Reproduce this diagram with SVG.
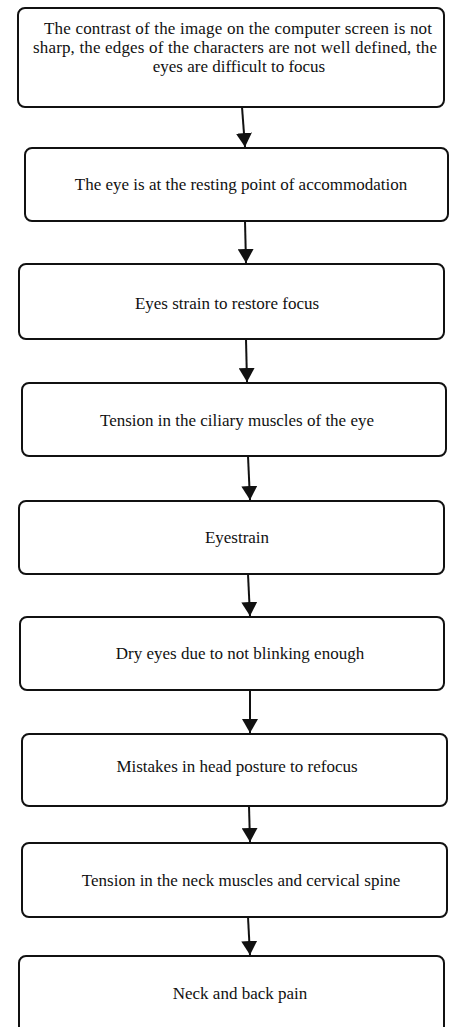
<svg xmlns="http://www.w3.org/2000/svg" width="452" height="1027" viewBox="0 0 452 1027">
<defs>
<style>
.box{fill:#fff;stroke:#111;stroke-width:2}
.t{font-family:"Liberation Serif","Times New Roman",serif;font-size:17px;fill:#111;text-anchor:middle}
.s{text-anchor:start}
.c{stroke:#111;stroke-width:2;fill:none}
</style>
<marker id="ah" viewBox="0 0 14 16" refX="14" refY="8" markerWidth="14" markerHeight="16" markerUnits="userSpaceOnUse" orient="auto">
<path d="M0,0 L14,8 L0,16 Z" fill="#111"/>
</marker>
</defs>
<rect width="452" height="1027" fill="#fff"/>
<g id="n1"><rect class="box" x="18" y="8" width="426" height="99" rx="7"/>
<text class="t s" x="44" y="34" textLength="388" lengthAdjust="spacing">The contrast of the image on the computer screen  is not</text>
<text class="t s" x="33" y="53" textLength="404" lengthAdjust="spacing">sharp, the edges of the characters  are not well defined, the</text>
<text class="t" x="239" y="72">eyes are difficult to focus</text></g>
<g id="n2"><rect class="box" x="25" y="148" width="423" height="73" rx="7"/>
<text class="t" x="241" y="190">The eye is at the resting point of accommodation</text></g>
<g id="n3"><rect class="box" x="19" y="264" width="425" height="75" rx="7"/>
<text class="t" x="227" y="309">Eyes strain to restore focus</text></g>
<g id="n4"><rect class="box" x="22" y="383" width="424" height="73" rx="7"/>
<text class="t" x="237" y="426">Tension in the ciliary muscles of the eye</text></g>
<g id="n5"><rect class="box" x="19" y="501" width="425" height="73" rx="7"/>
<text class="t" x="237" y="543">Eyestrain</text></g>
<g id="n6"><rect class="box" x="20" y="617" width="424" height="73" rx="7"/>
<text class="t" x="240" y="659">Dry eyes due to not blinking enough</text></g>
<g id="n7"><rect class="box" x="22" y="734" width="425" height="72" rx="7"/>
<text class="t" x="237" y="772">Mistakes in head posture to refocus</text></g>
<g id="n8"><rect class="box" x="22" y="843" width="425" height="74" rx="7"/>
<text class="t" x="241" y="886">Tension in the neck muscles and cervical  spine</text></g>
<g id="n9"><rect class="box" x="19" y="956" width="425" height="80" rx="7"/>
<text class="t" x="240" y="999">Neck and back pain</text></g>
<g id="connectors">
<line class="c" x1="242" y1="107" x2="245" y2="147" marker-end="url(#ah)"/>
<line class="c" x1="245" y1="221" x2="246" y2="263" marker-end="url(#ah)"/>
<line class="c" x1="246" y1="339" x2="247" y2="382" marker-end="url(#ah)"/>
<line class="c" x1="248" y1="456" x2="250" y2="500" marker-end="url(#ah)"/>
<line class="c" x1="248" y1="574" x2="250" y2="616" marker-end="url(#ah)"/>
<line class="c" x1="250" y1="690" x2="250" y2="733" marker-end="url(#ah)"/>
<line class="c" x1="249" y1="806" x2="250" y2="842" marker-end="url(#ah)"/>
<line class="c" x1="248" y1="917" x2="250" y2="955" marker-end="url(#ah)"/>
</g>
</svg>
